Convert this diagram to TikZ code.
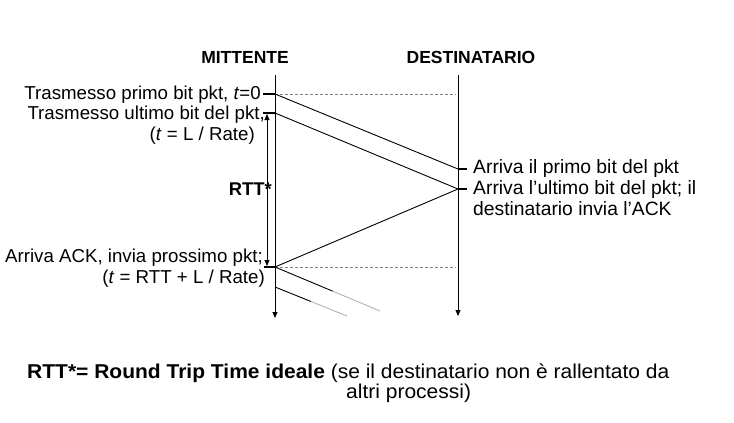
\documentclass[tikz,border=0pt]{standalone}
\usepackage{fontspec}
\setmainfont{Liberation Sans}
\newfontfamily\footfont[FakeStretch=1.05]{Liberation Sans}
\usetikzlibrary{arrows.meta,calc}
\begin{document}
\begin{tikzpicture}[x=1pt,y=-1pt,
 lbl/.style={inner sep=0pt, font=\fontsize{18.7}{21}\selectfont},
 rlbl/.style={inner sep=0pt, font=\fontsize{19.3}{21}\selectfont},
 foot/.style={inner sep=0pt, font=\footfont\fontsize{20}{22}\selectfont},
 hdr/.style={inner sep=0pt, font=\fontsize{17.5}{21}\selectfont\bfseries},
 timeline/.style={line width=0.9pt, -{Triangle[length=6pt,width=5pt]}},
 pkt/.style={line width=0.9pt},
 fade/.style={line width=0.9pt, gray!60},
 tick/.style={line width=2.6pt},
 rtt/.style={line width=0.9pt, {Triangle[length=6pt,width=5pt]}-{Triangle[length=6pt,width=5pt]}},
 guide/.style={gray, line width=0.7pt, dash pattern=on 3pt off 2pt}]
\useasboundingbox (0,0) rectangle (734,423);
% timeline points
\coordinate (s0) at (275,75); \coordinate (s1) at (275,318);
\coordinate (r0) at (458,75); \coordinate (r1) at (458,316);
\coordinate (sA) at (275,94); \coordinate (sB) at (275,113);
\coordinate (sC) at (275,267); \coordinate (sD) at (275,287);
\coordinate (rA) at (458,169); \coordinate (rB) at (458,189);
\coordinate (dA) at (456,94); \coordinate (dC) at (456,267);
\coordinate (nA) at (380,311); \coordinate (nB) at (347,316);
\coordinate (rttT) at (267,114); \coordinate (rttB) at (267,266);
% headers
\node[hdr, anchor=base] (mitt) at (245,63) {MITTENTE};
\node[hdr, anchor=base] (dest) at (471,63) {DESTINATARIO};
% timelines
\draw[timeline] (s0) -- (s1);
\draw[timeline] (r0) -- (r1);
% guides
\draw[guide] (sA) -- (dA);
\draw[guide] (sC) -- (dC);
% packet lines
\draw[pkt] (sA) -- (rA);
\draw[pkt] (sB) -- (rB);
\draw[pkt] (rB) -- (sC);
\draw[pkt] (sC) -- ($(sC)!0.55!(nA)$);
\draw[fade] ($(sC)!0.55!(nA)$) -- (nA);
\draw[pkt] (sD) -- ($(sD)!0.5!(nB)$);
\draw[fade] ($(sD)!0.5!(nB)$) -- (nB);
% ticks
\draw[tick] ([xshift=-12pt]sA) -- (sA);
\draw[tick] ([xshift=-12pt]sB) -- (sB);
\draw[tick] ([xshift=-11pt]sC) -- (sC);
\draw[line width=1.6pt] (rA) -- ([xshift=9pt]rA);
\draw[tick] (rB) -- ([xshift=9pt]rB);
% RTT arrow
\draw[rtt] (rttT) -- (rttB);
\node[hdr, font=\fontsize{18.4}{21}\selectfont\bfseries, anchor=base east] (rttl) at (272,195) {RTT*};
% sender labels
\node[lbl, anchor=base east] (l1) at (261,99.3) {Trasmesso primo bit pkt, \textit{t}=0};
\node[lbl, anchor=base east] (l2) at (265,119) {Trasmesso ultimo bit del pkt,};
\node[lbl, anchor=base east] (l3) at (255,140) {(\textit{t} = L / Rate)};
\node[lbl, anchor=base east] (l4) at (263,262.7) {Arriva ACK, invia prossimo pkt;};
\node[lbl, anchor=base east] (l5) at (265,283) {(\textit{t} = RTT + L / Rate)};
% receiver labels
\node[rlbl, anchor=base west] (r1l) at (473,173.3) {Arriva il primo bit del pkt};
\node[rlbl, anchor=base west] (r2l) at (473,194) {Arriva l’ultimo bit del pkt; il};
\node[rlbl, anchor=base west] (r3l) at (473,215) {destinatario invia l’ACK};
% footnote
\node[foot, anchor=base west] (f1) at (27,378) {\textbf{RTT*= Round Trip Time ideale} (se il destinatario non è rallentato da};
\node[foot, anchor=base west] (f2) at (346,398) {altri processi)};
\end{tikzpicture}
\end{document}
